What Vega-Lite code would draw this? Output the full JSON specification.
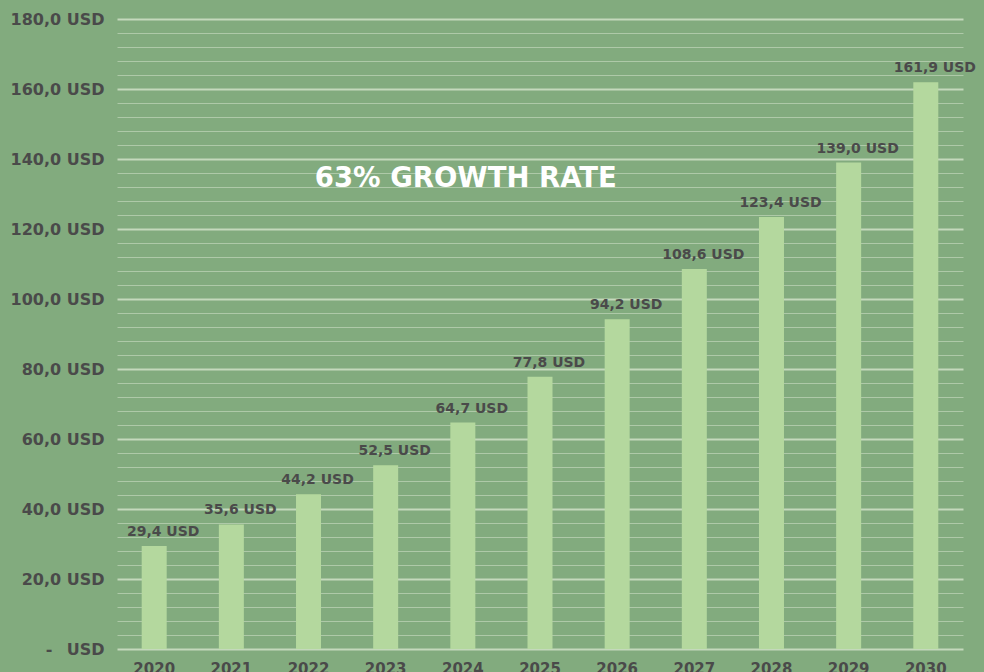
{
  "$schema": "https://vega.github.io/schema/vega-lite/v6.json",
  "autosize": "none",
  "width": 846,
  "height": 630,
  "padding": {"left": 117, "top": 19, "right": 21, "bottom": 23},
  "background": "#82ab7e",
  "config": {
    "view": {"stroke": null},
    "font": "DejaVu Sans"
  },
  "datasets": {
    "bars": [
      {"year": "2020", "value": 29.4, "label": "29,4 USD"},
      {"year": "2021", "value": 35.6, "label": "35,6 USD"},
      {"year": "2022", "value": 44.2, "label": "44,2 USD"},
      {"year": "2023", "value": 52.5, "label": "52,5 USD"},
      {"year": "2024", "value": 64.7, "label": "64,7 USD"},
      {"year": "2025", "value": 77.8, "label": "77,8 USD"},
      {"year": "2026", "value": 94.2, "label": "94,2 USD"},
      {"year": "2027", "value": 108.6, "label": "108,6 USD"},
      {"year": "2028", "value": 123.4, "label": "123,4 USD"},
      {"year": "2029", "value": 139.0, "label": "139,0 USD"},
      {"year": "2030", "value": 161.9, "label": "161,9 USD"}
    ],
    "note": [
      {"year": "2024", "value": 134.5, "text": "63% GROWTH RATE"}
    ]
  },
  "layer": [
    {
      "data": {"name": "bars"},
      "mark": {"type": "bar", "color": "#b4d89e", "opacity": 1},
      "encoding": {
        "x": {
          "field": "year", "type": "nominal",
          "scale": {"paddingInner": 0.676, "paddingOuter": 0.32},
          "axis": {
            "title": null, "labelAngle": 0, "ticks": false, "domain": false,
            "labelFont": "DejaVu Sans", "labelFontWeight": "bold", "labelFontSize": 15,
            "labelColor": "#4a4a4a", "labelPadding": 12, "labelBaseline": "top",
            "labelOverlap": false, "labelBound": false
          }
        },
        "y": {
          "field": "value", "type": "quantitative",
          "scale": {"domain": [0, 180], "nice": false},
          "axis": {
            "title": null, "ticks": false, "domain": false, "tickCount": 200, "zindex": 0,
            "labelOverlap": false, "labelBound": false, "labelFlush": false,
            "values": [0,4,8,12,16,20,24,28,32,36,40,44,48,52,56,60,64,68,72,76,80,84,88,92,96,100,104,108,112,116,120,124,128,132,136,140,144,148,152,156,160,164,168,172,176,180],
            "labelExpr": "datum.value % 20 != 0 ? '' : (datum.value == 0 ? '-\u00a0\u00a0\u2009USD' : replace(format(datum.value, '.1f'), '.', ',') + ' USD')",
            "labelFont": "DejaVu Sans", "labelFontWeight": "bold", "labelFontSize": 16,
            "labelColor": "#4a4a4a", "labelPadding": 13,
            "grid": true,
            "gridColor": "#d9e8d2",
            "gridOpacity": {"condition": {"test": "datum.value % 20 == 0", "value": 0.75}, "value": 0.5},
            "gridWidth": {"condition": {"test": "datum.value % 20 == 0", "value": 2}, "value": 1}
          }
        }
      }
    },
    {
      "data": {"name": "bars"},
      "mark": {
        "type": "text", "baseline": "bottom", "dy": -7, "dx": 9,
        "font": "DejaVu Sans", "fontWeight": "bold", "fontSize": 14, "color": "#4a4a4a"
      },
      "encoding": {
        "x": {"field": "year", "type": "nominal"},
        "y": {"field": "value", "type": "quantitative"},
        "text": {"field": "label"}
      }
    },
    {
      "data": {"name": "note"},
      "mark": {
        "type": "text", "baseline": "middle", "align": "center", "dx": 3, "dy": 1,
        "font": "DejaVu Sans", "fontWeight": "bold", "fontSize": 27.5, "color": "#ffffff"
      },
      "encoding": {
        "x": {"field": "year", "type": "nominal"},
        "y": {"field": "value", "type": "quantitative"},
        "text": {"field": "text"}
      }
    }
  ]
}
